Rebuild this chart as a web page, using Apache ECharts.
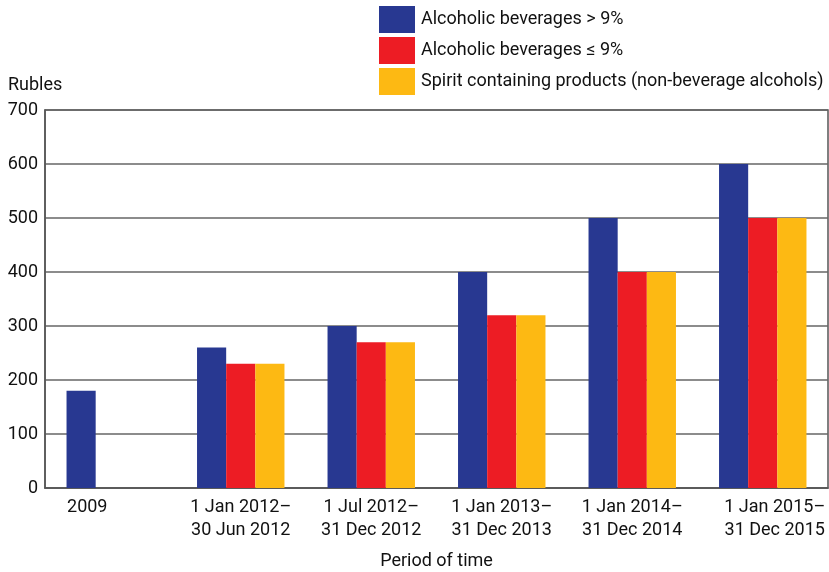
<!DOCTYPE html>
<html>
<head>
<meta charset="utf-8">
<script src="https://cdn.jsdelivr.net/npm/echarts@6/dist/echarts.min.js"></script>
<style>html,body{margin:0;padding:0;background:#fff}#c{width:829px;height:572px}</style>
</head>
<body>
<div id="c"></div>
<script>
const categories = ['2009', '1 Jan 2012–\n30 Jun 2012', '1 Jul 2012–\n31 Dec 2012', '1 Jan 2013–\n31 Dec 2013', '1 Jan 2014–\n31 Dec 2014', '1 Jan 2015–\n31 Dec 2015'];
const seriesNames = ['Alcoholic beverages > 9%', 'Alcoholic beverages ≤ 9%', 'Spirit containing products (non-beverage alcohols)'];
const over9 = [180, 260, 300, 400, 500, 600];
const upTo9 = [null, 230, 270, 320, 400, 500];
const spirit = [null, 230, 270, 320, 400, 500];
const yTicks = [0, 100, 200, 300, 400, 500, 600, 700];

const FONT = 'Roboto, "Noto Sans", sans-serif';
const colors = ['#283891', '#ED1C24', '#FDB913'];

const catData = categories.map((c, i) => {
  if (i === 0) return { value: c, textStyle: { padding: [0, 46, 0, 0] } };
  if (i === categories.length - 1) return { value: c, textStyle: { padding: [0, 0, 0, 24] } };
  return c;
});

const chart = echarts.init(document.getElementById('c'), null, { renderer: 'canvas' });
chart.setOption({
  animation: false,
  color: colors,
  textStyle: { fontFamily: FONT },
  legend: {
    orient: 'vertical',
    left: 379,
    top: 6,
    padding: 0,
    itemWidth: 36,
    itemHeight: 27,
    itemGap: 4,
    icon: 'rect',
    textStyle: { fontFamily: FONT, fontSize: 18, color: '#111', padding: [0, 0, 0, 1] },
    data: seriesNames
  },
  graphic: [{
    type: 'text', left: 8, top: 76,
    style: { text: 'Rubles', font: '18px ' + FONT, fill: '#111' }
  }],
  grid: {
    left: 45, right: 1, top: 110, bottom: 84,
    outerBoundsMode: 'none',
    containLabel: false,
    show: true, borderColor: '#555', borderWidth: 1.5, backgroundColor: 'transparent'
  },
  xAxis: {
    type: 'category',
    data: catData,
    name: 'Period of time',
    nameLocation: 'middle',
    nameGap: 64,
    nameTextStyle: { fontFamily: FONT, fontSize: 18, color: '#111' },
    axisLine: { lineStyle: { color: '#555', width: 1.5 } },
    axisTick: { show: false },
    axisLabel: { fontFamily: FONT, fontSize: 18, color: '#111', margin: 8, lineHeight: 23, interval: 0 }
  },
  yAxis: {
    type: 'value',
    min: 0, max: 700, interval: 100,
    axisLine: { show: true, lineStyle: { color: '#555', width: 1.5 } },
    axisTick: { show: false },
    axisLabel: { fontFamily: FONT, fontSize: 18, color: '#111', margin: 7,
      formatter: v => yTicks.includes(v) ? String(v) : '' },
    splitLine: { lineStyle: { color: '#666', width: 1.5 } }
  },
  series: [
    { name: seriesNames[0], type: 'bar', data: over9, barGap: '0%', barCategoryGap: '33%', z: 3 },
    { name: seriesNames[1], type: 'bar', data: upTo9, barGap: '0%', barCategoryGap: '33%', z: 3 },
    { name: seriesNames[2], type: 'bar', data: spirit, barGap: '0%', barCategoryGap: '33%', z: 3 }
  ]
});
</script>
</body>
</html>
